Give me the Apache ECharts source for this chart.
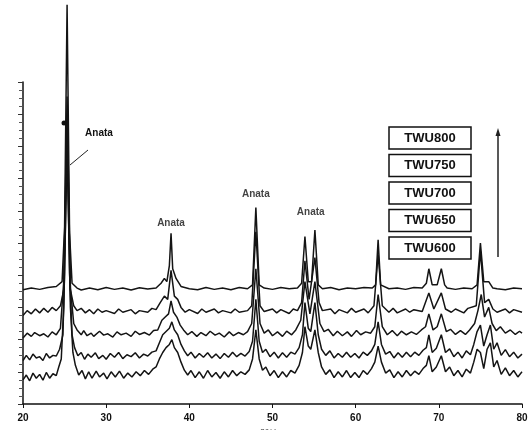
<!DOCTYPE html>
<html>
<head>
<meta charset="utf-8">
<script src="https://cdn.jsdelivr.net/npm/echarts@6/dist/echarts.min.js"></script>
<style>
  html, body { margin: 0; padding: 0; background: #fff; }
  #xrdCtn { width: 529px; height: 430px; }
</style>
</head>
<body>
<div id="xrdCtn"></div>
<script>
"use strict";
// 样品名称 (从下到上)
var sampleNames = ['TWU600', 'TWU650', 'TWU700', 'TWU750', 'TWU800'];
// 每条曲线的垂直偏移
var offsets = [6, 12.5, 20, 27.5, 35];
var xTicks = [20, 30, 40, 50, 60, 70, 80];

// 各样品的XRD曲线 [2theta, 强度]
var twu600 = [[20,1.5],[20.4,3],[20.8,1.2],[21.2,3.6],[21.6,2],[22,3.2],[22.4,1.4],[22.8,3.8],[23.2,2],[23.6,3.4],[24,2.8],[24.3,5.5],[24.6,8],[24.9,24],[25.3,73],[25.7,24],[26,10],[26.3,6],[26.7,3],[27.1,4.4],[27.5,1.8],[27.9,4],[28.3,2],[28.8,4.2],[29.2,2.4],[29.7,3.6],[30.1,1.8],[30.6,4],[31.1,2.4],[31.6,4.2],[32.1,2],[32.6,3.6],[33.1,2.4],[33.6,4],[34.1,2.8],[34.6,4.4],[35.1,3.2],[35.6,4.8],[36,5.5],[36.4,8],[36.8,10],[37.2,11.5],[37.6,12.5],[37.9,14],[38.2,11.5],[38.6,10],[39,7],[39.4,4.5],[39.8,3],[40.2,4.4],[40.7,2.2],[41.2,4],[41.7,2],[42.2,4.4],[42.7,2.4],[43.2,3.8],[43.7,2],[44.2,4],[44.7,2.4],[45.2,4.4],[45.7,2.8],[46.2,4],[46.7,3.2],[47.2,4.6],[47.6,8],[48,17],[48.4,8],[48.8,4.5],[49.2,5.5],[49.7,2.8],[50.2,4.4],[50.7,2.2],[51.2,4],[51.7,2.4],[52.2,4.4],[52.7,3.6],[53.2,6],[53.6,10],[53.9,18],[54.3,12],[54.6,11],[55.1,17],[55.5,10],[55.9,5.5],[56.4,3.2],[56.9,4.6],[57.4,2.2],[57.9,4],[58.4,2.4],[58.9,4.4],[59.4,2.2],[59.9,3.8],[60.4,2.2],[60.9,4.4],[61.4,3.2],[61.9,5],[62.3,7],[62.7,12],[63.1,7],[63.6,3.6],[64.1,4.6],[64.6,2.2],[65.1,4],[65.6,2.4],[66.1,4.4],[66.6,2.8],[67.1,4.2],[67.6,3.2],[68.1,5],[68.5,6],[68.8,9],[69.2,4],[69.7,5.5],[70.3,9],[70.8,4],[71.3,5.5],[71.8,2.8],[72.3,4.4],[72.8,2.4],[73.3,4.8],[73.8,3.6],[74.2,7],[74.6,11],[75,10],[75.4,5],[75.8,11],[76.2,13],[76.6,5.5],[77,7.5],[77.5,3.2],[78,5.2],[78.5,2.8],[79,4.4],[79.5,2.4],[80,4]];
var twu650 = [[20,1],[20.4,2.6],[20.8,1.2],[21.2,3],[21.6,1.8],[22,2.2],[22.4,1],[22.8,3.2],[23.2,1.8],[23.6,2.6],[24,2.4],[24.4,4.5],[24.8,9],[25,28],[25.3,74],[25.6,28],[25.9,9],[26.2,5],[26.6,2.5],[27,3.5],[27.4,1.4],[27.8,3],[28.2,2],[28.7,3.4],[29.1,1.6],[29.6,2.6],[30,1.4],[30.5,3.2],[31,2],[31.5,3.5],[32,1.6],[32.5,2.8],[33,2.2],[33.5,3.4],[34,1.8],[34.5,3],[35,2.4],[35.5,3.6],[36,4],[36.4,6.5],[36.8,9],[37.2,10],[37.6,11],[37.9,13],[38.2,10.5],[38.6,9],[39,6],[39.4,4],[39.8,2.5],[40.2,3.6],[40.7,1.8],[41.2,3.2],[41.7,2],[42.2,3.4],[42.7,1.8],[43.2,3],[43.7,1.6],[44.2,3.2],[44.7,2],[45.2,3.6],[45.7,2.2],[46.2,3.2],[46.7,2.4],[47.2,3.8],[47.6,7],[48,20],[48.4,7],[48.8,3.5],[49.2,4.5],[49.7,2.2],[50.2,3.6],[50.7,1.8],[51.2,3.4],[51.7,2],[52.2,3.6],[52.7,3],[53.2,5],[53.6,9],[53.9,19],[54.3,11],[54.6,10],[55.1,19],[55.5,9],[55.9,4.5],[56.4,2.6],[56.9,4],[57.4,1.8],[57.9,3.2],[58.4,2],[58.9,3.6],[59.4,2],[59.9,3.2],[60.4,1.8],[60.9,3.6],[61.4,2.6],[61.9,4],[62.3,6],[62.7,13],[63.1,6],[63.6,3],[64.1,3.8],[64.6,1.8],[65.1,3.4],[65.6,2],[66.1,3.6],[66.6,2.2],[67.1,3.6],[67.6,2.6],[68.1,4.2],[68.5,5],[68.8,9],[69.2,3.5],[69.7,4.8],[70.3,9],[70.8,3.5],[71.3,4.6],[71.8,2.2],[72.3,3.6],[72.8,1.8],[73.3,4],[73.8,2.8],[74.2,6],[74.6,10],[75,12],[75.4,5.5],[75.8,9],[76.2,12],[76.6,4.5],[77,6.5],[77.5,2.6],[78,4.4],[78.5,2.2],[79,3.6],[79.5,1.8],[80,3]];
var twu700 = [[20,0.5],[20.5,2],[21,1],[21.4,2.2],[22,1.2],[22.5,1.8],[23,0.8],[23.5,2.4],[24,1.5],[24.5,3.5],[24.9,18],[25.3,68],[25.7,16],[26.1,5],[26.5,3],[27,1.5],[27.3,2.8],[27.7,1.2],[28.2,2],[28.5,1],[29.2,2.6],[29.7,1.4],[30.2,1.8],[30.8,0.8],[31.3,2.4],[31.8,1.5],[32.4,2],[33,1],[33.5,2.6],[34,1.6],[34.6,2.2],[35.2,1.4],[35.7,2.8],[36.2,3],[36.7,6],[37.1,7],[37.5,8],[37.8,12],[38.1,8.5],[38.5,7],[38.9,4.5],[39.3,3],[39.8,1.5],[40.3,2.5],[40.9,1],[41.4,2.2],[42,1.2],[42.5,2.6],[43.1,1.4],[43.6,2],[44.2,0.8],[44.8,2.4],[45.3,1.2],[45.9,2.2],[46.5,1.5],[47,2.5],[47.5,5],[48,22],[48.5,5],[49,2],[49.5,3],[50,1.2],[50.6,2.4],[51.2,1],[51.7,2.6],[52.3,1.5],[52.8,3],[53.4,6],[53.9,18],[54.5,8],[55.1,18],[55.7,5],[56.2,2.5],[56.7,3.2],[57.3,1.2],[57.8,2.6],[58.4,1.2],[59,2.4],[59.5,1],[60.1,2.8],[60.6,1.5],[61.2,2.4],[61.8,2],[62.3,4],[62.7,14],[63.2,4],[63.8,1.5],[64.4,2.8],[65,1.2],[65.5,2.6],[66.1,1.5],[66.7,2.4],[67.3,1.6],[67.9,3],[68.4,4],[68.8,8],[69.3,3],[69.8,4],[70.3,8],[70.9,2.5],[71.4,3.2],[72,1.6],[72.6,2.8],[73.2,1.6],[73.7,3],[74.3,5],[74.7,9],[75.1,14],[75.5,7],[76,10],[76.4,5],[76.9,2.8],[77.4,4],[78,2],[78.6,3],[79.2,1.6],[79.7,2.6],[80,2]];
var twu750 = [[20,0],[20.5,1.5],[21,0.5],[21.5,2],[22,0.8],[22.5,2.2],[23,1],[23.5,2.5],[24,1.5],[24.5,3],[24.9,8],[25.3,68],[25.7,8],[26.1,3],[26.5,1.5],[27,2.2],[27.5,0.8],[28,1.8],[28.5,0.5],[29,2],[29.5,1],[30,1.5],[31,0.6],[31.5,2],[32,1],[33,1.8],[33.5,0.5],[34,1.5],[35,1],[35.5,2.2],[36,1.8],[36.5,4],[37,6],[37.4,5],[37.8,14],[38.2,6],[38.6,5],[39,2.5],[39.5,1],[40,1.8],[41,0.6],[41.5,2],[42,1],[43,2],[43.5,0.8],[44,1.5],[45,0.8],[45.5,2],[46,1],[47,1.5],[47.5,3],[48,26],[48.5,3],[49,1.2],[50,2],[50.5,0.8],[51,1.8],[52,0.6],[52.5,2],[53,1.5],[53.5,4],[53.9,17],[54.4,5],[55.1,18],[55.6,4],[56,1.5],[57,2],[57.5,0.5],[58,1.8],[59,0.8],[59.5,2.2],[60,1],[61,2],[61.5,0.8],[62.2,3],[62.7,19],[63.2,3],[64,1],[64.5,2.2],[65,0.8],[66,2],[66.5,1],[67,1.8],[68,1.2],[68.8,7],[69.4,2],[70.3,7],[70.8,2],[71.5,1],[72,2],[73,0.8],[73.5,2.2],[74.5,3],[75,20],[75.5,4],[76,5],[76.5,2],[77,1],[78,2],[78.5,0.8],[79,1.8],[80,1]];
var twu800 = [[20,0.5],[21,1],[22,0.6],[23,1.2],[24,1.5],[24.7,3],[25,20],[25.3,89],[25.6,18],[25.9,2.5],[26.5,1],[27,0.4],[28,1],[29,0.5],[30,1.2],[31,0.6],[32,1],[33,0.4],[34,1.1],[35,0.7],[36,1],[36.6,2.5],[37,4],[37.3,3],[37.6,8],[37.8,18],[38,7],[38.4,4],[38.6,4.5],[39,1.5],[40,0.8],[41,0.5],[42,1.2],[43,0.6],[44,1],[45,0.5],[46,1.2],[47,0.8],[47.6,2],[48,26],[48.4,2],[49,1],[50,0.6],[51,1.2],[52,0.8],[53,1],[53.5,2.5],[53.9,17],[54.3,3],[54.7,3],[55.1,19],[55.5,2],[56,0.8],[57,1.2],[58,0.5],[59,1],[60,0.8],[61,1.2],[62,1],[62.4,2],[62.7,16],[63,2],[64,0.8],[65,1],[66,0.6],[67,1.2],[68,1],[68.5,2.5],[68.8,7],[69.2,2],[69.8,2],[70.3,7],[70.7,2],[71,1],[72,0.6],[73,1],[74,0.8],[74.6,2],[75,15],[75.4,3],[76,3],[76.5,1],[77,0.8],[78,0.5],[79,1],[80,0.8]];
var traces = [twu600, twu650, twu700, twu750, twu800];

// 峰标注 [2theta, 标注高度]
var peakLabels = [[37.8, 56], [48, 65], [54.6, 59.5]];

function xrd_chart(element) {
    var myChart = echarts.init(document.getElementById(element));
    var series = [];
    traces.forEach(function(tr, i) {
        series.push({
            name: sampleNames[i],
            type: 'line',
            showSymbol: false,
            clip: false,
            animation: false,
            lineStyle: { color: '#141414', width: 1.5 },
            data: tr.map(function(p) { return [p[0], p[1] + offsets[i]]; }),
            z: 2 + i
        });
    });
    // 峰的标注文字
    series.push({
        type: 'scatter',
        symbolSize: 0,
        silent: true,
        animation: false,
        clip: false,
        data: peakLabels,
        label: {
            show: true,
            position: 'inside',
            formatter: 'Anata',
            color: '#111',
            fontFamily: 'Liberation Sans',
            fontWeight: 'bold',
            fontSize: 10
        }
    });

    var boxes = [];
    sampleNames.slice().reverse().forEach(function(name, k) {
        boxes.push({
            type: 'rect',
            shape: { x: 389, y: 127 + k * 27.5, width: 82, height: 22 },
            style: { fill: '#fff', stroke: '#111', lineWidth: 1.5 },
            z: 100
        });
        boxes.push({
            type: 'text',
            x: 430, y: 138 + k * 27.5,
            style: {
                text: name, fill: '#111', align: 'center', verticalAlign: 'middle',
                font: 'bold 13px "Liberation Sans"'
            },
            z: 101
        });
    });

    var option = {
        backgroundColor: '#fff',
        animation: false,
        grid: { left: 23, right: 7, top: 82, bottom: 26, outerBoundsMode: 'none' },
        xAxis: {
            type: 'value',
            min: 20,
            max: 80,
            interval: 10,
            name: '2θ/deg',
            nameLocation: 'middle',
            nameGap: 19,
            nameTextStyle: { fontSize: 8, color: '#333', fontFamily: 'Liberation Sans' },
            axisLine: { lineStyle: { color: '#111', width: 1.5 } },
            axisTick: { length: 4, lineStyle: { color: '#111' } },
            splitLine: { show: false },
            axisLabel: {
                color: '#111', fontFamily: 'Liberation Sans', fontWeight: 'bold', fontSize: 10, margin: 9,
                formatter: function(v) { return xTicks.indexOf(v) >= 0 ? String(v) : ''; }
            }
        },
        yAxis: {
            type: 'value',
            min: 0,
            max: 100,
            interval: 10,
            axisLine: { show: true, lineStyle: { color: '#111', width: 1.5 } },
            axisTick: { show: true, length: 5, lineStyle: { color: '#333' } },
            minorTick: { show: true, splitNumber: 4, length: 4, lineStyle: { color: '#555' } },
            axisLabel: { show: false },
            splitLine: { show: false }
        },
        series: series,
        graphic: boxes.concat([
            // 主峰标注
            {
                type: 'text', x: 99, y: 133,
                style: { text: 'Anata', fill: '#111', align: 'center', verticalAlign: 'middle', font: 'bold 10px "Liberation Sans"' },
                z: 100
            },
            {
                type: 'line', shape: { x1: 88, y1: 150, x2: 70, y2: 165 },
                style: { stroke: '#222', lineWidth: 1 }, z: 100
            },
            {
                type: 'circle', shape: { cx: 64, cy: 123, r: 2.5 },
                style: { fill: '#111' }, z: 100
            },
            // 温度升高方向箭头
            {
                type: 'line', shape: { x1: 498, y1: 257, x2: 498, y2: 132 },
                style: { stroke: '#222', lineWidth: 1.5 }, z: 100
            },
            {
                type: 'polygon', shape: { points: [[495.5, 136], [498, 128], [500.5, 136]] },
                style: { fill: '#222' }, z: 100
            }
        ])
    };
    myChart.setOption(option);
}
xrd_chart('xrdCtn');
</script>
</body>
</html>
